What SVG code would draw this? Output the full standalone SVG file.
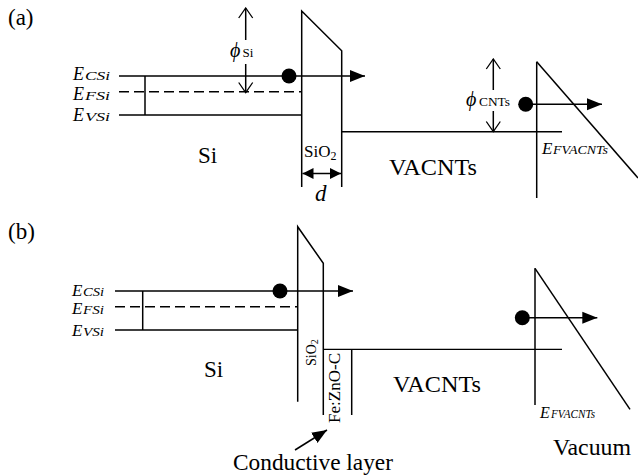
<svg xmlns="http://www.w3.org/2000/svg" width="638" height="476" viewBox="0 0 638 476">
<style>
.ln{stroke:#000;stroke-width:1.5;fill:none}
.th{stroke:#000;stroke-width:1.2;fill:none}
.dash{stroke:#000;stroke-width:1.5;fill:none;stroke-dasharray:10 5}
.fill{fill:#000;stroke:none}
text{font-family:"Liberation Serif","Times New Roman",serif;fill:#000}
.big{font-size:23px}
.e{font-size:18px;font-style:italic}
.sub{font-size:13px;font-style:italic}
.phi{font-size:20px;font-style:italic}
.ps{font-size:13px}
</style>
<defs>
<marker id="open" viewBox="0 0 16 16" refX="15" refY="8" markerWidth="16" markerHeight="16" markerUnits="userSpaceOnUse" orient="auto-start-reverse">
<path d="M5,1 L15,8 L5,15" fill="none" stroke="#000" stroke-width="1.3"/>
</marker>
<marker id="fill" viewBox="0 0 16 14" refX="15" refY="7" markerWidth="16" markerHeight="14" markerUnits="userSpaceOnUse" orient="auto-start-reverse">
<path d="M0,1 L15,7 L0,13 Z" fill="#000"/>
</marker>
<marker id="small" viewBox="0 0 12 12" refX="11" refY="6" markerWidth="12" markerHeight="12" markerUnits="userSpaceOnUse" orient="auto-start-reverse">
<path d="M0,0.5 L11,6 L0,11.5 Z" fill="#000"/>
</marker>
</defs>

<text class="big" x="8" y="25">(a)</text>
<text class="big" x="8" y="239">(b)</text>

<g id="connectors">
<line class="ln" x1="119" y1="76" x2="365" y2="76" marker-end="url(#fill)"/>
<line class="dash" x1="119" y1="91.7" x2="301" y2="91.7"/>
<line class="ln" x1="119" y1="115" x2="302" y2="115"/>
<line class="ln" x1="145" y1="76" x2="145" y2="115"/>
<line class="ln" x1="245.7" y1="40" x2="245.7" y2="8" marker-end="url(#open)"/>
<line class="ln" x1="245.7" y1="64" x2="245.7" y2="92.5" marker-end="url(#open)"/>
<line class="ln" x1="493.3" y1="90" x2="493.3" y2="59" marker-end="url(#open)"/>
<line class="ln" x1="493.3" y1="111" x2="493.3" y2="131.5" marker-end="url(#open)"/>
<line class="ln" x1="526" y1="104.3" x2="602" y2="104.3" marker-end="url(#fill)"/>
<line class="ln" x1="302.5" y1="173.5" x2="341" y2="173.5" marker-start="url(#small)" marker-end="url(#small)"/>
<line class="ln" x1="115" y1="291" x2="353" y2="291" marker-end="url(#fill)"/>
<line class="dash" x1="115" y1="306.7" x2="297.7" y2="306.7"/>
<line class="ln" x1="115" y1="330" x2="297.7" y2="330"/>
<line class="ln" x1="142.7" y1="291" x2="142.7" y2="330"/>
<line class="ln" x1="522.3" y1="317.7" x2="597.3" y2="317.7" marker-end="url(#fill)"/>
<line class="ln" x1="295" y1="450" x2="327" y2="430" marker-end="url(#fill)"/>
</g>

<g id="si-a">
<text class="e" x="73" y="80">E</text><text class="sub" x="85" y="80" textLength="25" lengthAdjust="spacingAndGlyphs">CSi</text>
<text class="e" x="73" y="100">E</text><text class="sub" x="85" y="100" textLength="25" lengthAdjust="spacingAndGlyphs">FSi</text>
<text class="e" x="73" y="121">E</text><text class="sub" x="85" y="121" textLength="25" lengthAdjust="spacingAndGlyphs">VSi</text>
<text class="big" x="198" y="163">Si</text>
<text class="phi" x="230" y="57">ϕ</text><text class="ps" x="242.5" y="57">Si</text>
<circle class="fill" cx="289" cy="76" r="7.5"/>
</g>

<g id="sio2-a">
<path class="ln" d="M301.7,187 L301.7,11 L341.7,50.7 L341.7,187"/>
<text x="304" y="157" style="font-size:17px">SiO<tspan style="font-size:12px" dy="3">2</tspan></text>
<text x="315" y="201" style="font-size:23px;font-style:italic">d</text>
</g>

<g id="vacnts-a">
<line class="ln" x1="341.7" y1="131.7" x2="562" y2="131.7"/>
<text class="big" x="389" y="175" textLength="88" lengthAdjust="spacingAndGlyphs">VACNTs</text>
<text class="phi" x="466" y="106">ϕ</text><text class="ps" x="479" y="106" textLength="31" lengthAdjust="spacingAndGlyphs">CNTs</text>
<circle class="fill" cx="525.7" cy="104.3" r="7.5"/>
</g>

<g id="vacuum-a">
<line class="ln" x1="536.7" y1="61.7" x2="536.7" y2="198"/>
<line class="ln" x1="536.7" y1="61.7" x2="638" y2="178"/>
<text class="e" x="542" y="154" style="font-size:17px">E</text><text class="sub" x="553" y="154" textLength="55" lengthAdjust="spacingAndGlyphs">FVACNTs</text>
</g>

<g id="si-b">
<text class="e" x="72" y="296" style="font-size:17px">E</text><text class="sub" x="83" y="296" style="font-size:12px" textLength="21" lengthAdjust="spacingAndGlyphs">CSi</text>
<text class="e" x="72" y="313.5" style="font-size:17px">E</text><text class="sub" x="83" y="313.5" style="font-size:12px" textLength="21" lengthAdjust="spacingAndGlyphs">FSi</text>
<text class="e" x="72" y="336" style="font-size:17px">E</text><text class="sub" x="83" y="336" style="font-size:12px" textLength="21" lengthAdjust="spacingAndGlyphs">VSi</text>
<text class="big" x="204" y="377">Si</text>
<circle class="fill" cx="280" cy="291" r="7.5"/>
</g>

<g id="sio2-b">
<path class="ln" d="M297.7,401.7 L297.7,226.7 L323.3,263.3 L323.3,415"/>
<text transform="translate(315.5,366) rotate(-90)" style="font-size:14px">SiO<tspan style="font-size:10px" dy="2">2</tspan></text>
</g>

<g id="fezno-b">
<line class="ln" x1="351.7" y1="349.3" x2="351.7" y2="415"/>
<text transform="translate(340,423) rotate(-90)" style="font-size:16px" textLength="70" lengthAdjust="spacingAndGlyphs">Fe:ZnO-C</text>
<text class="big" x="233" y="470" textLength="160" lengthAdjust="spacingAndGlyphs">Conductive layer</text>
</g>

<g id="vacnts-b">
<line class="th" x1="323.3" y1="349.3" x2="562" y2="349.3"/>
<text class="big" x="393" y="392" textLength="88" lengthAdjust="spacingAndGlyphs">VACNTs</text>
<circle class="fill" cx="522.3" cy="317.7" r="7.5"/>
</g>

<g id="vacuum-b">
<line class="ln" x1="535" y1="268.3" x2="535" y2="405"/>
<line class="ln" x1="535" y1="268.3" x2="630" y2="409.3"/>
<text class="e" x="540" y="418" style="font-size:16px">E</text><text class="sub" x="551" y="418" style="font-size:12px" textLength="44" lengthAdjust="spacingAndGlyphs">FVACNTs</text>
<text class="big" x="553" y="455" textLength="78" lengthAdjust="spacingAndGlyphs">Vacuum</text>
</g>
</svg>
